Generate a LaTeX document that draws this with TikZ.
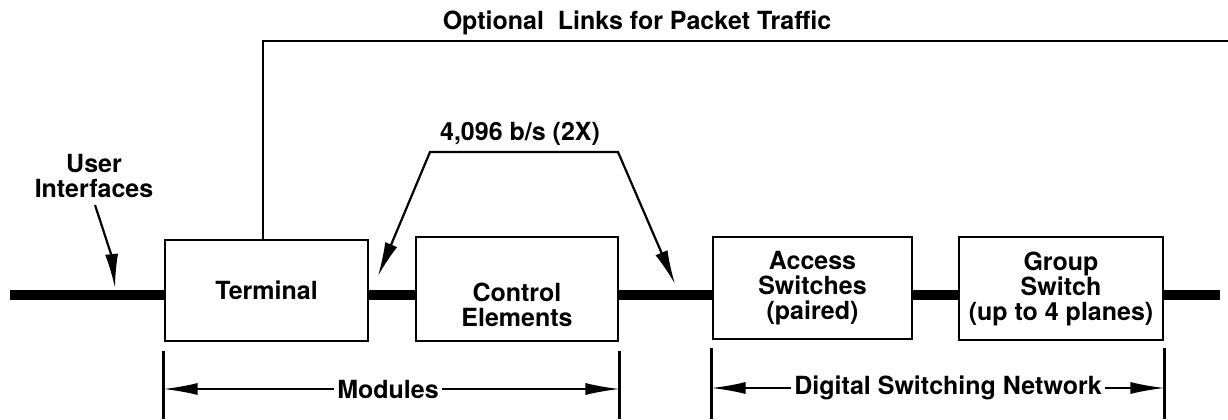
\documentclass[tikz,border=0pt]{standalone}
\usepackage{fontspec}
\setmainfont{TeX Gyre Heros}
\usetikzlibrary{arrows.meta,calc}
\newcommand\lblfont{\fontsize{12.5}{12.5}\selectfont\bfseries}
\begin{document}
\begin{tikzpicture}[x=0.5pt,y=-0.5pt,
  box/.style={draw, line width=1.4pt, fill=white, align=center, inner sep=0pt, font=\lblfont},
  lbl/.style={align=center, inner sep=1.5pt, font=\lblfont},
  bus/.style={line width=5pt, line cap=butt},
  thinline/.style={line width=1.1pt},
  arr/.style={line width=1.1pt, -{Latex[length=17pt,width=6.5pt]}},
  dim/.style={line width=0.8pt, -{Latex[length=17pt,width=6pt]}},
  tick/.style={line width=1.3pt}]
\useasboundingbox (0,0) rectangle (1228,419);
% boxes
\node[box, minimum width=101.5pt, minimum height=50.5pt] (T) at (266.5,290.5) {Terminal};
\node[box, minimum width=101pt, minimum height=52pt] (C) at (517,289) {};
\node[lbl] (Ct) at (517,305) {Control\\Elements};
\node[box, minimum width=99.5pt, minimum height=51pt] (A) at (812.5,288) {Access\\Switches\\(paired)};
\node[box, minimum width=102pt, minimum height=51.5pt] (G) at (1061,288.5) {Group\\Switch\\(up to 4 planes)};
% bus
\coordinate (in) at (10,295);
\coordinate (out) at (1220,295);
\draw[bus] (in) -- (in -| T.west);
\draw[bus] (in -| T.east) -- (in -| C.west);
\draw[bus] (in -| C.east) -- (in -| A.west);
\draw[bus] (in -| A.east) -- (in -| G.west);
\draw[bus] (in -| G.east) -- (out);
% packet links
\coordinate (pk) at (263,41);
\coordinate (pkr) at (1228,41);
\draw[thinline] (pk |- T.north) -- (pk) -- (pkr);
\node[lbl, inner sep=0pt] (opt) at (637,23) {Optional\ \ Links for Packet Traffic};
% 4096
\node[lbl] (rate) at (520,134) {4,096 b/s (2X)};
\coordinate (tl) at (430,152);
\coordinate (tr) at (618,152);
\coordinate (al) at (378,276);
\coordinate (ar) at (675,284);
\draw[thinline, {Latex[length=17pt,width=6.5pt]}-{Latex[length=17pt,width=6.5pt]}] (al) -- (tl) -- (tr) -- (ar);
% user interfaces
\node[lbl] (ui) at (94,176) {User\\Interfaces};
\coordinate (uia) at (95,205);
\coordinate (uib) at (115,288);
\draw[arr] (uia) .. controls (104,232) and (112,258) .. (uib);
% modules
\draw[tick] (T.west |- 0,351) -- (T.west |- 0,419);
\draw[tick] (C.east |- 0,351) -- (C.east |- 0,419);
\node[lbl] (mod) at (388,389) {Modules};
\draw[dim] (mod.west) -- (T.west |- mod.west);
\draw[dim] (mod.east) -- (C.east |- mod.east);
% DSN
\draw[tick] (A.west |- 0,348) -- (A.west |- 0,419);
\draw[tick] (G.east |- 0,348) -- (G.east |- 0,419);
\node[lbl] (dsn) at (948,388) {Digital Switching Network};
\draw[dim] (dsn.west) -- (A.west |- dsn.west);
\draw[dim] (dsn.east) -- (G.east |- dsn.east);
\end{tikzpicture}
\end{document}
